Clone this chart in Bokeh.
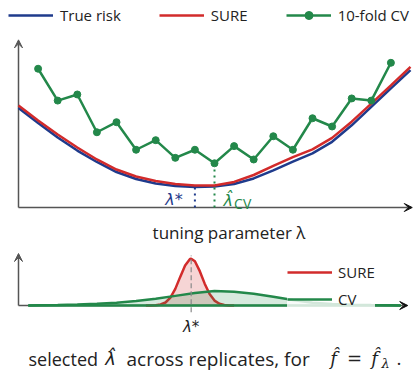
import numpy as np
from bokeh.plotting import figure
from bokeh.layouts import column
from bokeh.models import Range1d, Arrow, VeeHead, Legend, LegendItem, Label
from bokeh.embed import file_html
from bokeh.resources import INLINE

# ---------------- data ----------------
# top panel: risk curves vs tuning parameter
lam_grid = [0, 1, 2, 3, 4, 5, 6, 7, 8, 9, 10, 11, 12, 13, 14, 15, 16, 17, 18, 19, 20]
true_risk = [6.03, 5.12, 4.24, 3.45, 2.76, 2.15, 1.73, 1.45, 1.30, 1.24, 1.27,
             1.42, 1.76, 2.25, 2.78, 3.28, 3.98, 4.98, 6.10, 7.22, 8.33]
sure_risk = [6.18, 5.27, 4.42, 3.64, 2.91, 2.30, 1.88, 1.61, 1.42, 1.33, 1.33,
             1.55, 1.97, 2.52, 3.05, 3.52, 4.22, 5.20, 6.30, 7.40, 8.52]
cv_lam = [1, 2, 3, 4, 5, 6, 7, 8, 9, 10, 11, 12, 13, 14, 15, 16, 17, 18, 19]
cv_risk = [8.41, 6.48, 6.85, 4.56, 5.17, 3.50, 4.08, 3.01, 3.50, 2.68,
           3.72, 2.91, 4.32, 3.50, 5.41, 4.91, 6.61, 6.48, 8.77]

# bottom panel: distribution of selected lambda across replicates
sure_sel_lam = [6.5, 6.75, 7.0, 7.25, 7.5, 7.75, 8.0, 8.25, 8.5, 8.75, 8.81, 9.0,
                9.25, 9.5, 9.75, 10.0, 10.25, 10.5, 10.75, 11.0]
sure_sel_dens = [0.0, 0.001, 0.005, 0.019, 0.058, 0.15, 0.32, 0.55, 0.77, 0.895, 0.90,
                 0.85, 0.66, 0.42, 0.22, 0.094, 0.033, 0.009, 0.002, 0.0]
cv_sel_lam = [0.5, 1, 2, 3, 4, 5, 6, 7, 8, 9, 10, 11, 12, 13, 14, 15, 16, 17, 18, 19, 19.5]
cv_sel_dens = [0.0, 0.005, 0.01, 0.02, 0.035, 0.055, 0.085, 0.13, 0.185, 0.24, 0.28,
               0.265, 0.225, 0.17, 0.105, 0.055, 0.03, 0.015, 0.008, 0.003, 0.0]
lam_star_hist = 8.81

# ---------------- style ----------------
BLUE = "#1f3b8c"
RED = "#d22b2b"
GREEN = "#23884a"
AX = "#555555"
TXT = "#222222"
FONT = "Open Sans"
MATH = "DejaVu Serif"
W = 419
H1, H2 = 245, 134
X0, XS = 18, 19.6          # px of lambda=0, px per lambda unit
Y0T, YST = 207, 16.5       # top panel: px of risk=0, px per unit
Y0B, YSB = 60, 52          # bottom panel: px of density=0, px per unit


def px2x(px):
    return (px - X0) / XS


# ---------------- top figure ----------------
top = figure(width=W, height=H1, output_backend="svg", toolbar_location=None,
             x_range=Range1d(-X0 / XS, (W - X0) / XS),
             y_range=Range1d(-(H1 - Y0T) / YST, Y0T / YST),
             x_axis_type=None, y_axis_type=None, min_border=0)
top.grid.visible = False
top.outline_line_color = None

# axes as arrows
top.add_layout(Arrow(end=VeeHead(size=8, line_color=AX, fill_color=AX, line_width=1),
                     x_start=0, y_start=0, x_end=0, y_end=10.16,
                     line_color=AX, line_width=1.5, level="underlay"))
top.add_layout(Arrow(end=VeeHead(size=8, line_color="#111", fill_color="#111", line_width=1),
                     x_start=0, y_start=0, x_end=20.09, y_end=0,
                     line_color=AX, line_width=1.5, level="underlay"))

r_true = top.line(lam_grid, true_risk, color=BLUE, line_width=2.5)
r_sure = top.line(lam_grid, sure_risk, color=RED, line_width=2.5)
r_cvl = top.line(cv_lam, cv_risk, color=GREEN, line_width=2.5)
r_cvm = top.scatter(cv_lam, cv_risk, size=7, color=GREEN)

i_t = int(np.argmin(true_risk))
lam_star = lam_grid[i_t]
top.segment(x0=[lam_star], y0=[0], x1=[lam_star], y1=[true_risk[i_t]],
            line_color=BLUE, line_width=2, line_dash="2 4")
i_c = int(np.argmin(cv_risk))
lam_cv = cv_lam[i_c]
top.segment(x0=[lam_cv], y0=[0], x1=[lam_cv], y1=[cv_risk[i_c]],
            line_color=GREEN, line_width=2, line_dash="2 4")

top.add_layout(Label(x=lam_star - 1.07, y=0.48, text="λ*", text_color=BLUE,
                     text_font="DejaVu Sans", text_font_style="italic",
                     text_font_size="16px", text_align="center", text_baseline="middle"))
top.add_layout(Label(x=lam_cv + 0.7, y=0.45, text="λ̂", text_color=GREEN,
                     text_font="DejaVu Sans", text_font_style="italic",
                     text_font_size="16px", text_align="center", text_baseline="middle"))
top.add_layout(Label(x=lam_cv + 1.0, y=0.22, text="CV", text_color=GREEN,
                     text_font=FONT, text_font_size="14px",
                     text_align="left", text_baseline="middle"))
top.add_layout(Label(x=10.74, y=-1.515, text="tuning parameter λ", text_color=TXT,
                     text_font=FONT, text_font_size="17px",
                     text_align="center", text_baseline="middle"))

leg_top = Legend(items=[LegendItem(label="True risk", renderers=[r_true]),
                        LegendItem(label="SURE", renderers=[r_sure]),
                        LegendItem(label="10-fold CV", renderers=[r_cvl, r_cvm])],
                 orientation="horizontal", location=(8, 220),
                 glyph_width=45, glyph_height=20, label_height=20,
                 label_standoff=7, spacing=38, padding=0, margin=0,
                 background_fill_alpha=0, border_line_color=None,
                 label_text_font=FONT, label_text_font_size="15px",
                 label_text_color=TXT, label_text_baseline="middle")
top.add_layout(leg_top, "center")

# ---------------- bottom figure ----------------
bot = figure(width=W, height=H2, output_backend="svg", toolbar_location=None,
             x_range=Range1d(-X0 / XS, (W - X0) / XS),
             y_range=Range1d(-(H2 - Y0B) / YSB, Y0B / YSB),
             x_axis_type=None, y_axis_type=None, min_border=0)
bot.grid.visible = False
bot.outline_line_color = None

bot.add_layout(Arrow(end=VeeHead(size=8, line_color=AX, fill_color=AX, line_width=1),
                     x_start=0, y_start=0, x_end=0, y_end=1.0,
                     line_color=AX, line_width=1.5, level="underlay"))
bot.add_layout(Arrow(end=VeeHead(size=8, line_color="#111", fill_color="#111", line_width=1),
                     x_start=0, y_start=0, x_end=19.86, y_end=0,
                     line_color=AX, line_width=1.5, level="underlay"))

bot.varea(x=sure_sel_lam, y1=[0] * len(sure_sel_lam), y2=sure_sel_dens,
          fill_color=RED, fill_alpha=0.2)
r_sure_d = bot.line(sure_sel_lam, sure_sel_dens, color=RED, line_width=2.5)
bot.varea(x=cv_sel_lam, y1=[0] * len(cv_sel_lam), y2=cv_sel_dens,
          fill_color=GREEN, fill_alpha=0.18)
r_cv_d = bot.line(cv_sel_lam, cv_sel_dens, color=GREEN, line_width=2.5)
bot.line(cv_sel_lam, [0] * len(cv_sel_lam), color=GREEN, line_width=2.5)

bot.segment(x0=[lam_star_hist], y0=[-0.13], x1=[lam_star_hist], y1=[0.96],
            line_color="#888888", line_width=1.2, line_dash="5 3")

bot.add_layout(Label(x=lam_star_hist, y=-0.42, text="λ*", text_color=TXT,
                     text_font="DejaVu Sans", text_font_style="italic",
                     text_font_size="15px", text_align="center", text_baseline="middle"))

leg_bot = Legend(items=[LegendItem(label="SURE", renderers=[r_sure_d]),
                        LegendItem(label="CV", renderers=[r_cv_d])],
                 orientation="vertical", location=(287, 69.7),
                 glyph_width=45, glyph_height=20, label_height=20,
                 label_standoff=6, spacing=7, padding=10, margin=0,
                 background_fill_color="white", background_fill_alpha=0.8,
                 border_line_color=None,
                 label_text_font=FONT, label_text_font_size="15px",
                 label_text_color=TXT, label_text_baseline="middle")
bot.add_layout(leg_bot, "center")

# caption: selected λ̂ across replicates, for f̂ = f̂_λ.
cy = -1.02


def cap(px, text, font=FONT, size="19px", style="normal", dy=0.0, align="left"):
    bot.add_layout(Label(x=px2x(px), y=cy + dy, text=text, text_color=TXT,
                         text_font=font, text_font_style=style, text_font_size=size,
                         text_align=align, text_baseline="middle"))


cap(28, "selected", size="18px")
cap(110, "λ̂", font="DejaVu Sans", style="italic", size="18px", align="center")
cap(126, "across replicates, for")
cap(333, "f̂", font=MATH, style="italic", size="18px", align="center")
cap(354, "=", font=MATH, size="18px", align="center")
cap(374, "f̂", font=MATH, style="italic", size="18px", align="center")
cap(381, "λ", font=MATH, style="italic", size="13px", dy=-0.09)
cap(396, ".")

layout = column(top, bot, spacing=0)
open("out.html", "w").write(file_html(layout, INLINE))
